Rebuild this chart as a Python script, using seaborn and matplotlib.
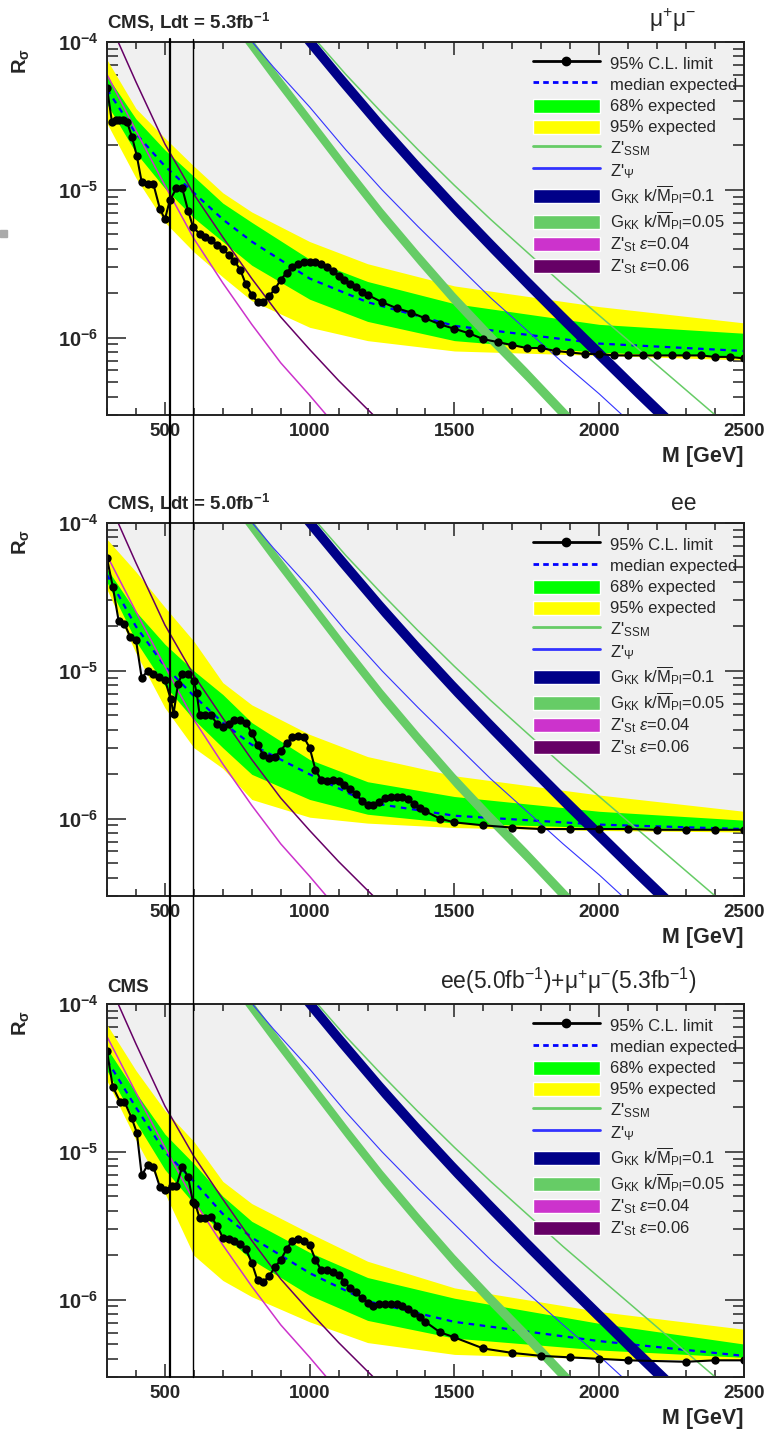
import matplotlib
matplotlib.use("Agg")
import matplotlib.pyplot as plt
import numpy as np
import seaborn as sns
from matplotlib.lines import Line2D
from matplotlib.patches import Patch, Rectangle

# ---------------------------------------------------------------- data
# observed 95% CL limits, log10(R_sigma) read off the picture
MUMU_M = [300, 317, 330, 340, 355, 369, 386, 403, 420, 440, 460, 483, 500, 517, 540, 560,
          580, 597, 620, 640, 660, 680, 700, 720, 740, 760, 780, 800, 820, 840, 860, 880,
          900, 920, 940, 960, 980, 1000, 1020, 1040, 1060, 1080, 1100, 1120, 1140, 1160,
          1180, 1200, 1250, 1300, 1350, 1400, 1450, 1500, 1550, 1600, 1650, 1700, 1750,
          1800, 1850, 1900, 1950, 2000, 2050, 2100, 2150, 2200, 2250, 2300, 2350, 2400,
          2450, 2500]
MUMU_OBS = [-4.31, -4.54, -4.53, -4.53, -4.53, -4.54, -4.64, -4.77, -4.95, -4.96, -4.96,
            -5.13, -5.20, -5.07, -4.99, -4.99, -5.14, -5.25, -5.30, -5.32, -5.34, -5.37,
            -5.40, -5.44, -5.48, -5.54, -5.64, -5.71, -5.76, -5.76, -5.72, -5.67, -5.61,
            -5.56, -5.52, -5.50, -5.49, -5.49, -5.49, -5.50, -5.52, -5.55, -5.58, -5.61,
            -5.64, -5.66, -5.69, -5.71, -5.76, -5.80, -5.83, -5.87, -5.91, -5.94, -5.97,
            -6.01, -6.03, -6.05, -6.07, -6.07, -6.09, -6.10, -6.11, -6.11, -6.12, -6.12,
            -6.12, -6.12, -6.12, -6.12, -6.12, -6.13, -6.13, -6.14]

EE_M = [300, 320, 340, 360, 380, 400, 420, 440, 460, 480, 500, 520, 530, 545, 560, 580,
        600, 610, 620, 640, 660, 680, 700, 720, 740, 760, 780, 800, 820, 840, 860, 880,
        900, 920, 940, 960, 980, 1000, 1020, 1040, 1060, 1080, 1100, 1120, 1140, 1160,
        1180, 1200, 1220, 1240, 1260, 1280, 1300, 1320, 1340, 1360, 1380, 1400, 1450,
        1500, 1600, 1700, 1800, 1900, 2000, 2100, 2200, 2300, 2400, 2500]
EE_OBS = [-4.24, -4.43, -4.66, -4.68, -4.77, -4.79, -5.05, -5.00, -5.02, -5.04, -5.06,
          -5.19, -5.29, -5.09, -5.02, -5.02, -5.07, -5.15, -5.30, -5.30, -5.30, -5.36,
          -5.38, -5.36, -5.33, -5.33, -5.35, -5.42, -5.50, -5.57, -5.59, -5.58, -5.54,
          -5.49, -5.45, -5.44, -5.45, -5.52, -5.67, -5.74, -5.745, -5.74, -5.745, -5.77,
          -5.80, -5.83, -5.88, -5.91, -5.91, -5.89, -5.86, -5.85, -5.85, -5.85, -5.87,
          -5.90, -5.93, -5.95, -6.00, -6.025, -6.045, -6.06, -6.07, -6.07, -6.07, -6.07,
          -6.075, -6.075, -6.075, -6.075]

COMB_M = [300, 320, 345, 360, 385, 403, 420, 440, 460, 483, 500, 524, 540, 560, 580, 597,
          605, 620, 640, 660, 680, 700, 720, 740, 760, 780, 800, 820, 840, 860, 880, 900,
          920, 940, 960, 980, 1000, 1020, 1040, 1060, 1080, 1100, 1120, 1140, 1160, 1180,
          1200, 1220, 1240, 1260, 1280, 1300, 1320, 1340, 1360, 1380, 1400, 1450, 1500,
          1600, 1700, 1800, 1900, 2000, 2100, 2300, 2400, 2500]
COMB_OBS = [-4.32, -4.56, -4.66, -4.66, -4.77, -4.87, -5.16, -5.09, -5.10, -5.24, -5.26,
            -5.23, -5.23, -5.10, -5.17, -5.34, -5.35, -5.45, -5.45, -5.44, -5.50, -5.58,
            -5.59, -5.60, -5.62, -5.66, -5.75, -5.87, -5.88, -5.84, -5.78, -5.73, -5.66,
            -5.60, -5.59, -5.60, -5.63, -5.73, -5.80, -5.80, -5.81, -5.83, -5.88, -5.92,
            -5.95, -5.99, -6.02, -6.04, -6.03, -6.03, -6.03, -6.03, -6.04, -6.06, -6.09,
            -6.12, -6.15, -6.22, -6.255, -6.33, -6.36, -6.38, -6.39, -6.40, -6.41, -6.42,
            -6.41, -6.41]

# expected bands, log10(R_sigma)
BAND_M = [300, 400, 500, 600, 700, 800, 1000, 1200, 1500, 2000, 2500]
MUMU_YEL_UP = [-4.12, -4.45, -4.65, -4.84, -5.02, -5.15, -5.35, -5.50, -5.65, -5.79, -5.90]
MUMU_GRN_UP = [-4.23, -4.52, -4.73, -4.91, -5.09, -5.22, -5.47, -5.62, -5.77, -5.91, -5.97]
MUMU_MEDIAN = [-4.32, -4.62, -4.84, -5.02, -5.20, -5.35, -5.60, -5.76, -5.92, -6.04, -6.09]
MUMU_GRN_LO = [-4.42, -4.75, -4.99, -5.19, -5.35, -5.51, -5.74, -5.89, -6.02, -6.10, -6.13]
MUMU_YEL_LO = [-4.55, -4.92, -5.22, -5.42, -5.59, -5.75, -5.93, -6.02, -6.09, -6.12, -6.15]

EE_YEL_UP = [-4.11, -4.33, -4.57, -4.80, -5.08, -5.23, -5.43, -5.58, -5.71, -5.84, -5.95]
EE_GRN_UP = [-4.31, -4.60, -4.82, -5.00, -5.16, -5.35, -5.60, -5.75, -5.85, -5.95, -6.01]
EE_MEDIAN = [-4.35, -4.70, -4.97, -5.17, -5.35, -5.50, -5.70, -5.89, -5.98, -6.04, -6.07]
EE_GRN_LO = [-4.40, -4.80, -5.10, -5.33, -5.52, -5.70, -5.87, -5.97, -6.03, -6.06, -6.07]
EE_YEL_LO = [-4.45, -4.88, -5.25, -5.52, -5.66, -5.87, -5.99, -6.03, -6.06, -6.08, -6.09]

COMB_YEL_UP = [-4.14, -4.45, -4.72, -4.93, -5.20, -5.35, -5.55, -5.74, -5.92, -6.08, -6.20]
COMB_GRN_UP = [-4.30, -4.60, -4.88, -5.08, -5.30, -5.47, -5.68, -5.85, -5.99, -6.16, -6.30]
COMB_MEDIAN = [-4.38, -4.70, -5.00, -5.20, -5.42, -5.58, -5.82, -6.01, -6.15, -6.28, -6.38]
COMB_GRN_LO = [-4.45, -4.80, -5.12, -5.35, -5.56, -5.73, -5.97, -6.14, -6.26, -6.34, -6.39]
COMB_YEL_LO = [-4.52, -4.92, -5.28, -5.70, -5.87, -5.98, -6.15, -6.29, -6.37, -6.40, -6.41]

# theory predictions, log10(R_sigma)
SSM_M = [1000, 1125, 1250, 1375, 1500, 1625, 1750, 1875, 2000, 2125, 2250, 2375, 2500]
SSM_R = [-3.94, -4.22, -4.48, -4.73, -4.97, -5.20, -5.42, -5.64, -5.85, -6.06, -6.27,
         -6.48, -6.69]
PSI_M = [750, 875, 1000, 1125, 1250, 1375, 1500, 1625, 1750, 1875, 2000, 2100]
PSI_R = [-3.88, -4.17, -4.44, -4.73, -5.00, -5.25, -5.49, -5.73, -5.95, -6.17, -6.38, -6.56]
GKK01_M = [950, 1100, 1250, 1375, 1500, 1625, 1750, 1875, 2000, 2125, 2250]
GKK01_R = [-3.88, -4.235, -4.58, -4.855, -5.12, -5.375, -5.625, -5.87, -6.11, -6.35, -6.585]
GKK005_M = [750, 875, 1000, 1125, 1250, 1375, 1500, 1625, 1750, 1900]
GKK005_R = [-3.89, -4.22, -4.54, -4.86, -5.17, -5.46, -5.74, -6.00, -6.25, -6.56]
ST004_M = [300, 400, 500, 600, 700, 800, 900, 1000, 1100]
ST004_R = [-4.22, -4.60, -4.97, -5.33, -5.63, -5.91, -6.17, -6.39, -6.62]
ST006_M = [300, 400, 500, 600, 700, 800, 900, 1000, 1100, 1200, 1250]
ST006_R = [-3.83, -4.27, -4.69, -5.03, -5.32, -5.60, -5.86, -6.08, -6.29, -6.485, -6.58]
GKK01_HALF = 0.05     # band half width in decades
GKK005_HALF = 0.045

MARK_M = [517, 597]   # the two hand drawn vertical marks

# ---------------------------------------------------------------- style
sns.set_theme(style="ticks")
plt.rcParams["font.family"] = ["Liberation Sans", "DejaVu Sans"]
plt.rcParams["mathtext.fontset"] = "custom"
plt.rcParams["mathtext.rm"] = "Liberation Sans"
plt.rcParams["mathtext.it"] = "Liberation Sans:italic"
plt.rcParams["mathtext.bf"] = "Liberation Sans:bold"
plt.rcParams["axes.unicode_minus"] = False

C_GRAY = "#f0f0f0"
C_YEL = "#ffff00"
C_GRN = "#00ff00"
C_MED = "#0000ff"
C_SSM = "#66cc66"
C_PSI = "#3333ff"
C_G01 = "#000088"
C_G005 = "#66cc66"
C_ST4 = "#cc33cc"
C_ST6 = "#660066"


def p(v):
    return 10.0 ** np.asarray(v)


def draw_panel(ax, obs_m, obs_r, yel_up, grn_up, median, grn_lo, yel_lo, left_title, right_title):
    ax.fill_between(obs_m, p(obs_r), 1e-3, color=C_GRAY, lw=0, zorder=0)
    ax.fill_between(BAND_M, p(yel_lo), p(yel_up), color=C_YEL, lw=0, zorder=1)
    ax.fill_between(BAND_M, p(grn_lo), p(grn_up), color=C_GRN, lw=0, zorder=2)
    sns.lineplot(x=BAND_M, y=p(median), ax=ax, color=C_MED, lw=1.6, dashes=(2.5, 2.5),
                 zorder=3)

    # theory
    ax.fill_between(GKK005_M, p(np.array(GKK005_R) - GKK005_HALF),
                    p(np.array(GKK005_R) + GKK005_HALF), color=C_G005, lw=0, zorder=4)
    ax.fill_between(GKK01_M, p(np.array(GKK01_R) - GKK01_HALF),
                    p(np.array(GKK01_R) + GKK01_HALF), color=C_G01, lw=0, zorder=4)
    sns.lineplot(x=PSI_M, y=p(PSI_R), ax=ax, color=C_PSI, lw=0.8, zorder=4)
    sns.lineplot(x=SSM_M, y=p(SSM_R), ax=ax, color=C_SSM, lw=1.1, zorder=4)
    sns.lineplot(x=ST004_M, y=p(ST004_R), ax=ax, color=C_ST4, lw=1.1, zorder=4)
    sns.lineplot(x=ST006_M, y=p(ST006_R), ax=ax, color=C_ST6, lw=1.1, zorder=4)

    sns.lineplot(x=obs_m, y=p(obs_r), ax=ax, color="black", lw=1.5, marker="o",
                 markersize=6, markeredgewidth=0, zorder=5)

    ax.set_yscale("log")
    ax.set_xlim(300, 2500)
    ax.set_ylim(3e-7, 1e-4)
    ax.set_xticks([500, 1000, 1500, 2000, 2500])
    ax.set_xticklabels(["500", "1000", "1500", "2000", "2500"], fontweight="bold", fontsize=13.5)
    ax.set_xticks(np.arange(300, 2501, 100), minor=True)
    ax.set_yticks([1e-6, 1e-5, 1e-4])
    ax.set_yticklabels([r"$\mathbf{10^{-6}}$", r"$\mathbf{10^{-5}}$", r"$\mathbf{10^{-4}}$"],
                       fontsize=14.5)
    ax.tick_params(which="both", direction="in", top=True, right=True, width=1.1, color="#222222")
    ax.tick_params(axis="x", which="major", length=9.5, pad=6)
    ax.tick_params(axis="x", which="minor", length=5)
    ax.tick_params(axis="y", which="major", length=14, pad=6)
    ax.tick_params(axis="y", which="minor", length=8)
    for s in ax.spines.values():
        s.set_linewidth(1.4)
        s.set_color("#222222")
        s.set_zorder(10)
    ax.set_xlabel("M [GeV]", fontweight="bold", fontsize=15.5, loc="right")
    ax.xaxis.set_label_coords(1.0, -0.083)
    ax.set_ylabel(r"R$_{\mathbf{\sigma}}$", fontweight="bold", fontsize=14.5, loc="top")
    ax.yaxis.set_label_coords(-0.118, 0.985)

    ax.text(0.0, 1.022, left_title, transform=ax.transAxes, ha="left", va="bottom",
            fontsize=13.5, fontweight="bold")
    ax.text(0.926, 1.022, right_title, transform=ax.transAxes, ha="right", va="bottom",
            fontsize=16.5)

    handles = [
        Line2D([0], [0], color="black", lw=2, marker="o", markersize=6),
        Line2D([0], [0], color=C_MED, lw=2, dashes=(2, 1.5)),
        Patch(facecolor=C_GRN),
        Patch(facecolor=C_YEL),
        Line2D([0], [0], color=C_SSM, lw=2),
        Line2D([0], [0], color=C_PSI, lw=2),
        Patch(facecolor=C_G01),
        Patch(facecolor=C_G005),
        Patch(facecolor=C_ST4),
        Patch(facecolor=C_ST6),
    ]
    labels = [
        "95% C.L. limit",
        "median expected",
        "68% expected",
        "95% expected",
        r"Z'$_{\rm SSM}$",
        r"Z'$_{\Psi}$",
        r"G$_{\rm KK}$ k/$\overline{\rm M}_{\rm Pl}$=0.1",
        r"G$_{\rm KK}$ k/$\overline{\rm M}_{\rm Pl}$=0.05",
        r"Z'$_{\rm St}$ $\epsilon$=0.04",
        r"Z'$_{\rm St}$ $\epsilon$=0.06",
    ]
    leg = ax.legend(handles, labels, loc="upper left", bbox_to_anchor=(0.669, 0.968),
                    frameon=False, fontsize=12, handlelength=4.0, handleheight=1.32,
                    handletextpad=0.6, labelspacing=0.17, borderpad=0, borderaxespad=0,
                    numpoints=1)
    leg.set_zorder(6)
    for patch in leg.get_patches():
        patch.set_height(patch.get_height() * 0.75)
        patch.set_y(patch.get_y() + patch.get_height() * 0.16)


fig = plt.figure(figsize=(7.77, 14.32), dpi=100)
ax_left, ax_w, ax_h = 0.1377, 0.8198, 0.2605
ax_mm = fig.add_axes([ax_left, 0.7102, ax_w, ax_h])
ax_ee = fig.add_axes([ax_left, 0.3743, ax_w, ax_h])
ax_cb = fig.add_axes([ax_left, 0.0384, ax_w, ax_h])

draw_panel(ax_mm, MUMU_M, MUMU_OBS, MUMU_YEL_UP, MUMU_GRN_UP, MUMU_MEDIAN, MUMU_GRN_LO,
           MUMU_YEL_LO, r"CMS, Ldt = 5.3fb$^{\mathbf{-1}}$", r"$\mathrm{\mu}^{+}\mathrm{\mu}^{-}$")
draw_panel(ax_ee, EE_M, EE_OBS, EE_YEL_UP, EE_GRN_UP, EE_MEDIAN, EE_GRN_LO, EE_YEL_LO,
           r"CMS, Ldt = 5.0fb$^{\mathbf{-1}}$", "ee")
draw_panel(ax_cb, COMB_M, COMB_OBS, COMB_YEL_UP, COMB_GRN_UP, COMB_MEDIAN, COMB_GRN_LO,
           COMB_YEL_LO, "CMS",
           r"ee(5.0fb$^{-1}$)+$\mathrm{\mu}^{+}\mathrm{\mu}^{-}$(5.3fb$^{-1}$)")

# vertical marks drawn across all three panels
inv = fig.transFigure.inverted()
for m, lw in zip(MARK_M, [1.6, 1.0]):
    x_top, y_top = inv.transform(ax_mm.transData.transform((m, 1e-4)))
    x_bot, y_bot = inv.transform(ax_cb.transData.transform((m, 3e-7)))
    fig.add_artist(Line2D([x_top, x_bot], [y_top + 0.002, y_bot], color="black", lw=lw,
                          transform=fig.transFigure, zorder=20))

fig.add_artist(Rectangle((0.0, 1 - 237 / 1432), 7 / 777, 7 / 1432, color="#aaaaaa",
                         transform=fig.transFigure))

fig.savefig("out.png", dpi=100)
